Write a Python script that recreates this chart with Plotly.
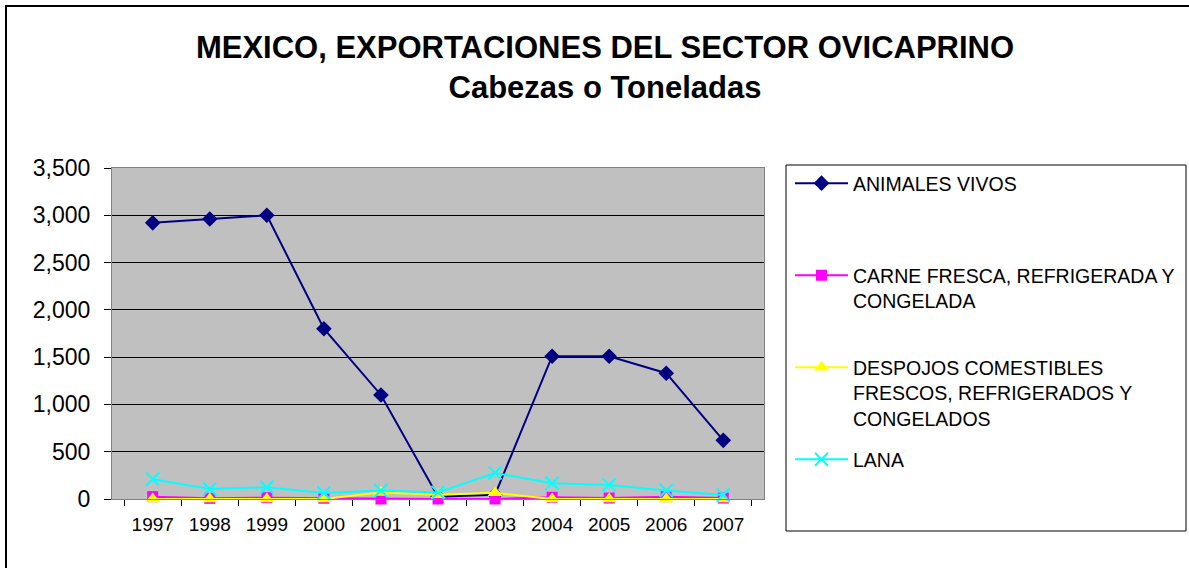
import plotly.graph_objects as go

# ---------------------------------------------------------
# datos
# ---------------------------------------------------------
years = ["1997", "1998", "1999", "2000", "2001", "2002", "2003", "2004", "2005", "2006", "2007"]

animales_vivos = [2920, 2960, 3000, 1800, 1100, 25, 45, 1510, 1510, 1330, 620]
carne = [25, 7, 14, 8, 0, 0, 0, 18, 10, 25, 10]
despojos = [0, 0, 0, 0, 70, 45, 65, 0, 0, 0, 0]
lana = [210, 106, 124, 64, 89, 70, 275, 167, 149, 89, 43]

series_names = [
    "ANIMALES VIVOS",
    "CARNE FRESCA, REFRIGERADA Y<br>CONGELADA",
    "DESPOJOS COMESTIBLES<br>FRESCOS, REFRIGERADOS Y<br>CONGELADOS",
    "LANA",
]

W, H = 1189, 568
# area de trazado en pixeles
PL, PR, PT, PB = 112, 764, 168, 499


def px_x(px):
    return (px - PL) / (PR - PL)


def px_y(py):
    return (PB - py) / (PB - PT)


fig = go.Figure()

# nombres con lineas vacias para imitar el reparto de la leyenda de Excel
legend_text = [
    series_names[0] + "<br> <br> ",
    series_names[1] + "<br> ",
    series_names[2],
    series_names[3],
]

styles = [
    dict(color="#000080", symbol="diamond", size=12),
    dict(color="#FF00FF", symbol="square", size=11),
    dict(color="#FFFF00", symbol="triangle-up", size=13),
    dict(color="#00FFFF", symbol="x-thin-open", size=13),
]

for i, (vals, name, st) in enumerate(zip([animales_vivos, carne, despojos, lana], legend_text, styles)):
    mk = dict(color=st["color"], symbol=st["symbol"], size=st["size"])
    if st["symbol"] == "x-thin-open":
        mk["line"] = dict(color=st["color"], width=2)
    fig.add_trace(go.Scatter(
        x=years, y=vals, name=name, mode="lines+markers",
        legendgroup=str(i), cliponaxis=False,
        line=dict(color=st["color"], width=2),
        marker=mk,
    ))

# marco exterior y caja de la leyenda
fig.add_shape(type="rect", xref="paper", yref="paper",
              x0=px_x(6), x1=px_x(1195), y0=px_y(575), y1=px_y(6),
              line=dict(color="black", width=2), fillcolor="rgba(0,0,0,0)", layer="below")
fig.add_shape(type="rect", xref="paper", yref="paper",
              x0=px_x(786), x1=px_x(1186), y0=px_y(531), y1=px_y(165),
              line=dict(color="black", width=1), fillcolor="white", layer="below")

fig.update_layout(
    width=W, height=H,
    margin=dict(l=PL, r=W - PR, t=PT, b=H - PB, autoexpand=False),
    paper_bgcolor="white",
    plot_bgcolor="#C0C0C0",
    font=dict(family="Arial, Liberation Sans", color="black"),
    title=dict(
        text="<b>MEXICO, EXPORTACIONES DEL SECTOR OVICAPRINO<br>Cabezas o Toneladas</b>",
        x=605 / W, xanchor="center", y=1 - 58 / H, yanchor="top", yref="container",
        font=dict(size=31, color="black"),
    ),
    showlegend=True,
    legend=dict(
        x=px_x(790), xanchor="left", y=px_y(164), yanchor="top",
        font=dict(size=19.5, color="black"),
        bgcolor="rgba(0,0,0,0)", borderwidth=0,
        valign="top", tracegroupgap=13, itemwidth=53,
        maxheight=600,
    ),
    xaxis=dict(
        type="category", tickson="boundaries",
        ticks="outside", ticklen=6, tickcolor="black",
        showgrid=False, showline=True, linecolor="#808080", mirror=True,
        tickfont=dict(size=19), ticklabelstandoff=8,
    ),
    yaxis=dict(
        range=[0, 3500], dtick=500, tickformat=",d",
        ticks="outside", ticklen=7, tickcolor="black",
        showgrid=True, gridcolor="black", gridwidth=1,
        showline=True, linecolor="#808080", mirror=True,
        zeroline=False, tickfont=dict(size=23), ticklabelstandoff=9,
    ),
)

# sin margen del body, para que la figura ocupe la ventana exacta
fig.write_html("out.html", config={"displayModeBar": False},
               post_script="document.body.style.margin='0';")
